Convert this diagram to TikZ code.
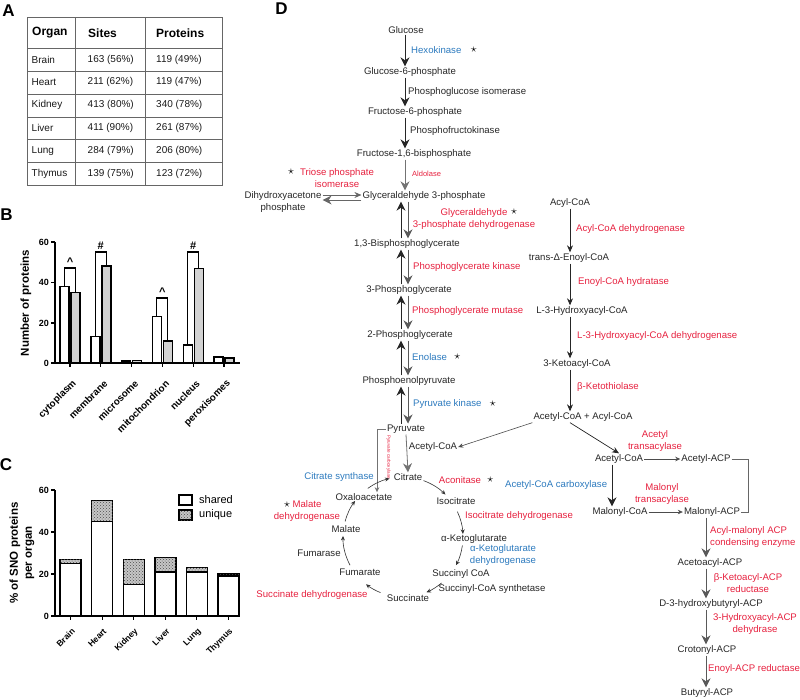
\documentclass[tikz,border=0pt]{standalone}
\usepackage{fontspec}
\setmainfont{Liberation Sans}
\usetikzlibrary{arrows.meta, positioning, calc, patterns}
\definecolor{enzred}{RGB}{230,32,62}
\definecolor{enzblue}{RGB}{44,122,190}

\begin{document}
\begin{tikzpicture}[
    x=1pt, y=-1pt,
    met/.style={font=\fontsize{9.6}{12}\selectfont, inner sep=1pt, text=black!85, align=center},
    enz/.style={font=\fontsize{9.6}{12}\selectfont, inner sep=1pt, text=enzred, align=center},
    enzb/.style={enz, text=enzblue},
    enzk/.style={enz, text=black!85},
    enzs/.style={enz, font=\fontsize{7.5}{9}\selectfont},
    starsym/.style={font=\fontsize{12}{12}\selectfont, inner sep=0pt},
    big/.style={-{Stealth[width=9pt,length=9pt]}, draw=black!85, line width=0.8pt},
    med/.style={-{Stealth[width=6pt,length=7pt]}, draw=black!85, line width=0.7pt},
    sarr/.style={-{Stealth[width=4.5pt,length=5pt]}, draw=black!70, line width=0.6pt},
    cyc/.style={-{Stealth[width=4pt,length=4.5pt]}, draw=black!80, line width=0.6pt},
    link/.style={draw=black!60, line width=0.6pt},
    panel/.style={font=\fontsize{17}{17}\selectfont\bfseries, inner sep=0pt},
    tabline/.style={draw=black!60, line width=0.6pt},
    cell/.style={font=\fontsize{10}{12}\selectfont, anchor=west, inner sep=0pt, text=black!90},
    head/.style={font=\fontsize{12}{14}\selectfont\bfseries, anchor=west, inner sep=0pt},
    axis/.style={draw=black, line width=1.1pt},
    ticklab/.style={font=\fontsize{9}{9}\selectfont\bfseries, inner sep=1pt, anchor=east},
    catlab/.style={font=\fontsize{8.5}{8.5}\selectfont\bfseries, rotate=45, anchor=east, inner sep=0pt},
    ylab/.style={font=\fontsize{11.5}{14}\selectfont\bfseries, rotate=90, align=center},
    bar/.style={draw=black, line width=1.4pt},
    brk/.style={draw=black, line width=1.1pt},
    sig/.style={font=\fontsize{11}{11}\selectfont\bfseries, inner sep=0pt},
    legtxt/.style={font=\fontsize{11}{11}\selectfont, anchor=west, inner sep=0pt}
]
\path[use as bounding box] (0,0) rectangle (800,699);

% Panel A: table
\node[panel] (labA) at (8.5,11) {A};
\draw[tabline] (27,17) rectangle (222,185);
\foreach \yy in {48,71,94,117,139,162} {
    \draw[tabline] (27,\yy) -- (222,\yy);
}
\draw[tabline] (75,17) -- (75,185);
\draw[tabline] (145,17) -- (145,185);
\node[head] (hOrgan) at (32,33) {Organ};
\node[head] (hSites) at (88,33) {Sites};
\node[head] (hProt) at (156,33) {Proteins};
\foreach \org/\sit/\pro [count=\i] in {Brain/163 (56\%)/119 (49\%), Heart/211 (62\%)/119 (47\%), Kidney/413 (80\%)/340 (78\%), Liver/411 (90\%)/261 (87\%), Lung/284 (79\%)/206 (80\%), Thymus/139 (75\%)/123 (72\%)} {
    \node[cell] (org\i) at (31.5,36.7+22.8*\i) {\org};
    \node[cell] (sit\i) at (87.5,36.7+22.8*\i) {\sit};
    \node[cell] (pro\i) at (156,36.7+22.8*\i) {\pro};
}

% Panel B: proteins per compartment
\node[panel] (labB) at (6.5,214.5) {B};
\node[ylab] (ylabB) at (26,303) {Number of proteins};
\foreach \v/\yy in {0/363,20/323,40/282.5,60/242} {
    \draw[axis] (51,\yy) -- (55,\yy);
    \node[ticklab] (tb\v) at (50,\yy) {\v};
}
\foreach \cat/\wv/\gv [count=\i from 0] in {cytoplasm/38/35, membrane/13/48, microsome/1/1.2, mitochondrion/23/11, nucleus/9/47, peroxisomes/3/2.5} {
    \pgfmathsetmacro\cx{70+30.8*\i}
    \draw[bar, fill=white] (\cx-10,363) rectangle (\cx-1,363-2.017*\wv);
    \draw[bar, fill=gray!35] (\cx+1,363) rectangle (\cx+10,363-2.017*\gv);
    \draw[axis] (\cx,363) -- (\cx,367);
    \node[catlab, font=\fontsize{9.8}{9.8}\selectfont\bfseries] (cb\i) at (\cx+5,382) {\cat};
}
\draw[axis] (55,242) -- (55,363) -- (240,363);
\draw[brk] (64.5,286.4) -- (64.5,268) -- (75.5,268) -- (75.5,292.4);
\draw[brk] (95.3,336.8) -- (95.3,252) -- (106.3,252) -- (106.3,266.2);
\draw[brk] (156.9,316.6) -- (156.9,298) -- (167.9,298) -- (167.9,340.8);
\draw[brk] (187.7,344.8) -- (187.7,252) -- (198.7,252) -- (198.7,268.2);
\node[sig] (sg1) at (70,262) {\textasciicircum};
\node[sig] (sg2) at (100.8,246) {\#};
\node[sig] (sg3) at (162.4,292) {\textasciicircum};
\node[sig] (sg4) at (193.2,246) {\#};

% Panel C: shared and unique per organ
\node[panel] (labC) at (6,465) {C};
\node[ylab] (ylabC) at (22,553) {\% of SNO proteins\\per organ};
\foreach \v/\yy in {0/616,20/574,40/532,60/490} {
    \draw[axis] (51,\yy) -- (55,\yy);
    \node[ticklab] (tc\v) at (50,\yy) {\v};
}
\foreach \org/\sv/\tv [count=\i from 0] in {Brain/25/27, Heart/45/55, Kidney/15/27, Liver/21/28, Lung/21/23, Thymus/19/20} {
    \pgfmathsetmacro\cx{70.5+31.6*\i}
    \draw[bar, fill=gray!45, postaction={pattern=crosshatch dots, pattern color=black!70}] (\cx-10.5,616-2.1*\sv) rectangle (\cx+10.5,616-2.1*\tv);
    \draw[bar, fill=white] (\cx-10.5,616) rectangle (\cx+10.5,616-2.1*\sv);
    \draw[axis] (\cx,616) -- (\cx,620);
    \node[catlab] (cc\i) at (\cx+3,630) {\org};
}
\draw[axis] (55,490) -- (55,616) -- (240,616);
\draw[bar, line width=1.1pt, fill=white] (179,495) rectangle (192,505);
\node[legtxt] (legS) at (199,500) {shared};
\draw[bar, line width=1.1pt, fill=gray!45, postaction={pattern=crosshatch dots, pattern color=black!70}] (179,510) rectangle (192,520);
\node[legtxt] (legU) at (199,515) {unique};

% Panel D: pathways
\node[panel] (labD) at (281.5,9) {D};
\coordinate (gx) at (405,0);
\coordinate (gu) at (401,0);
\coordinate (gd) at (408,0);
\coordinate (bx) at (570,0);
\coordinate (fx) at (612,0);
\coordinate (sx) at (706,0);
\coordinate (pcx) at (377,0);
\coordinate (tpT) at (0,195);
\coordinate (tpB) at (0,200);
\coordinate (tc) at (403,537);

% glycolysis
\node[met] (glc) at (406,30) {Glucose};
\node[met] (g6p) at (410,72) {Glucose-6-phosphate};
\node[met] (f6p) at (415,112) {Fructose-6-phosphate};
\node[met] (fbp) at (414,154) {Fructose-1,6-bisphosphate};
\node[met] (g3p) at (424,196) {Glyceraldehyde 3-phosphate};
\node[met] (dhap) at (283,202) {Dihydroxyacetone\\phosphate};
\node[met] (bpg) at (407,244) {1,3-Bisphosphoglycerate};
\node[met] (pga3) at (409,290) {3-Phosphoglycerate};
\node[met] (pga2) at (410,335) {2-Phosphoglycerate};
\node[met] (pep) at (409,381) {Phosphoenolpyruvate};
\node[met] (pyr) at (406,429) {Pyruvate};

\node[enzb, anchor=west] (hk) at (410,50) {Hexokinase};
\node[starsym, right=8pt of hk] (hkS) {$\star$};
\node[enzk, anchor=west] (pgi) at (407,92) {Phosphoglucose isomerase};
\node[enzk, anchor=west] (pfk) at (409,131) {Phosphofructokinase};
\node[enzs, anchor=west] (ald) at (411,174) {Aldolase};
\node[enz] (tpi) at (337,178) {Triose phosphate\\isomerase};
\node[starsym] (tpiS) at (291,172) {$\star$};
\node[enz] (gapdh) at (474,219) {Glyceraldehyde\\3-phosphate dehydrogenase};
\node[starsym] (gapdhS) at (514,212) {$\star$};
\node[enz, anchor=west] (pgk) at (412,267) {Phosphoglycerate kinase};
\node[enz, anchor=west] (pgm) at (411,311) {Phosphoglycerate mutase};
\node[enzb, anchor=west] (eno) at (411,357) {Enolase};
\node[starsym, right=6pt of eno] (enoS) {$\star$};
\node[enzb, anchor=west] (pk) at (412,404) {Pyruvate kinase};
\node[starsym, right=7pt of pk] (pkS) {$\star$};

\draw[big] (glc.south -| gx) -- (g6p.north -| gx);
\draw[big] (g6p.south -| gx) -- (f6p.north -| gx);
\draw[big] (f6p.south -| gx) -- (fbp.north -| gx);
\draw[big, draw=black!55] (fbp.south -| gx) -- (g3p.north -| gx);
\draw[med, draw=black!60] (dhap.east |- tpT) -- (g3p.west |- tpT);
\draw[big, draw=black!60] (g3p.west |- tpB) -- (dhap.east |- tpB);
\foreach \u/\l in {g3p/bpg, bpg/pga3, pga3/pga2, pga2/pep, pep/pyr} {
    \draw[big, draw=black!65] (\u.south -| gd) -- (\l.north -| gd);
    \draw[big] (\l.north -| gu) -- (\u.south -| gu);
}

% beta oxidation
\node[met] (acyl) at (570,203) {Acyl-CoA};
\node[met] (tenoyl) at (569,258) {trans-Δ-Enoyl-CoA};
\node[met] (hacyl) at (582,311) {L-3-Hydroxyacyl-CoA};
\node[met] (keto) at (577,364) {3-Ketoacyl-CoA};
\node[met] (acac) at (583,417) {Acetyl-CoA + Acyl-CoA};
\node[enz, anchor=west] (acd) at (575,229) {Acyl-CoA dehydrogenase};
\node[enz, anchor=west] (ech) at (577,282) {Enoyl-CoA hydratase};
\node[enz, anchor=west] (hadh) at (576,336) {L-3-Hydroxyacyl-CoA dehydrogenase};
\node[enz, anchor=west] (kth) at (576,387) {β-Ketothiolase};
\draw[med] (acyl.south -| bx) -- (tenoyl.north -| bx);
\draw[med] (tenoyl.south -| bx) -- (hacyl.north -| bx);
\draw[med] (hacyl.south -| bx) -- (keto.north -| bx);
\draw[med] (keto.south -| bx) -- (acac.north -| bx);

% fatty acid synthesis
\node[met] (acoaR) at (619,459) {Acetyl-CoA};
\node[met] (acpA) at (706,459) {Acetyl-ACP};
\node[met] (mcoa) at (620,512) {Malonyl-CoA};
\node[met] (macp) at (712,512) {Malonyl-ACP};
\node[met] (acacp) at (710,563) {Acetoacyl-ACP};
\node[met] (hbacp) at (711,604) {D-3-hydroxybutyryl-ACP};
\node[met] (cracp) at (707,650) {Crotonyl-ACP};
\node[met] (buacp) at (707,693) {Butyryl-ACP};
\node[enz] (atr) at (655,441) {Acetyl\\transacylase};
\node[enz] (mtr) at (662,494) {Malonyl\\transacylase};
\node[enzb, anchor=west] (acc) at (504,485) {Acetyl-CoA carboxylase};
\node[enz, anchor=west, align=left] (amce) at (709,537) {Acyl-malonyl ACP\\condensing enzyme};
\node[enz] (kar) at (748,583) {β-Ketoacyl-ACP\\reductase};
\node[enz] (had) at (755,624) {3-Hydroxyacyl-ACP\\dehydrase};
\node[enz, anchor=west] (ear) at (707,669) {Enoyl-ACP reductase};

\draw[med] (acac.south -| bx) -- (acoaR.north);
\draw[sarr] (acoaR.east) -- (acpA.west);
\draw[big] (acoaR.south -| fx) -- (mcoa.north -| fx);
\draw[sarr] (mcoa.east) -- (macp.west);
\draw[link] (acpA.east) -- ++(17,0) |- (macp.east);
\draw[big, draw=black!65] (macp.south -| sx) -- (acacp.north -| sx);
\draw[big, draw=black!65] (acacp.south -| sx) -- (hbacp.north -| sx);
\draw[big, draw=black!65] (hbacp.south -| sx) -- (cracp.north -| sx);
\draw[big, draw=black!65] (cracp.south -| sx) -- (buacp.north -| sx);

% TCA cycle
\node[met] (acoaT) at (433,447) {Acetyl-CoA};
\node[met] (cit) at (408,477) {Citrate};
\node[met] (icit) at (456,501) {Isocitrate};
\node[met] (akg) at (474,539) {α-Ketoglutarate};
\node[met] (sca) at (461,574) {Succinyl CoA};
\node[met] (suc) at (408,598) {Succinate};
\node[met] (fum) at (360,572) {Fumarate};
\node[met] (mal) at (346,529) {Malate};
\node[met] (oaa) at (364,497) {Oxaloacetate};
\node[enzb] (cs) at (339,477) {Citrate synthase};
\node[enz] (acon) at (460,480) {Aconitase};
\node[starsym, right=5pt of acon] (aconS) {$\star$};
\node[enz] (idh) at (519,516) {Isocitrate dehydrogenase};
\node[enzb] (akgdh) at (503,555) {α-Ketoglutarate\\dehydrogenase};
\node[enzk] (scs) at (492,589) {Succinyl-CoA synthetase};
\node[enz] (sdh) at (312,595) {Succinate dehydrogenase};
\node[enzk] (fumr) at (319,553) {Fumarase};
\node[enz] (mdh) at (307,511) {Malate\\dehydrogenase};
\node[starsym] (mdhS) at (287,505) {$\star$};
\node[enz, font=\fontsize{4.6}{5}\selectfont, rotate=-90, inner sep=0pt] (pc) at (388.5,457) {Pyruvate carboxylase};

\draw[sarr] (acac.south west) -- (acoaT.east);
\draw[big, draw=black!55] (pyr.south) -- (cit.north);
\draw[sarr, draw=black!55] (pyr.west) -| (oaa.north -| pcx);
\draw[cyc] ($(tc)+(-126:60)$) arc[start angle=-126, end angle=-103, radius=60];
\draw[cyc] ($(tc)+(-70:60)$) arc[start angle=-70, end angle=-45, radius=60];
\draw[cyc] ($(tc)+(-25:60)$) arc[start angle=-25, end angle=-3, radius=60];
\draw[cyc] ($(tc)+(8:60)$) arc[start angle=8, end angle=28, radius=60];
\draw[cyc] ($(tc)+(50:60)$) arc[start angle=50, end angle=67, radius=60];
\draw[cyc] ($(tc)+(112:60)$) arc[start angle=112, end angle=128, radius=60];
\draw[cyc] ($(tc)+(152:60)$) arc[start angle=152, end angle=181, radius=60];
\draw[cyc] ($(tc)+(-165:60)$) arc[start angle=-165, end angle=-143, radius=60];

\end{tikzpicture}
\end{document}
